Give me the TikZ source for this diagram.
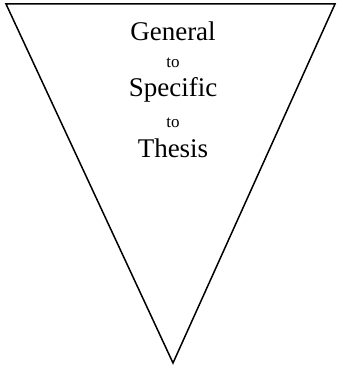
\documentclass[tikz,border=0pt]{standalone}
\usepackage{fontspec}
\setmainfont{Liberation Serif}

\begin{document}
\begin{tikzpicture}[x=1pt,y=1pt,
    bigword/.style={font=\fontsize{27}{27}\selectfont, inner sep=0pt, anchor=base},
    smallword/.style={font=\fontsize{17}{17}\selectfont, inner sep=0pt, anchor=base}]
    \useasboundingbox (0,0) rectangle (337,367);
    % Ecken des Dreiecks:
    \coordinate (topleft) at (6,363);
    \coordinate (topright) at (335,363);
    \coordinate (apex) at (173,4);
    \draw[line width=1.5pt, line join=miter] (topleft) -- (topright) -- (apex) -- cycle;
    % Beschriftung:
    \node[bigword] (general) at (173,326) {General};
    \node[smallword] (to1) at (173,299) {to};
    \node[bigword] (specific) at (173,270) {Specific};
    \node[smallword] (to2) at (173,239) {to};
    \node[bigword] (thesis) at (173,209) {Thesis};
\end{tikzpicture}
\end{document}
